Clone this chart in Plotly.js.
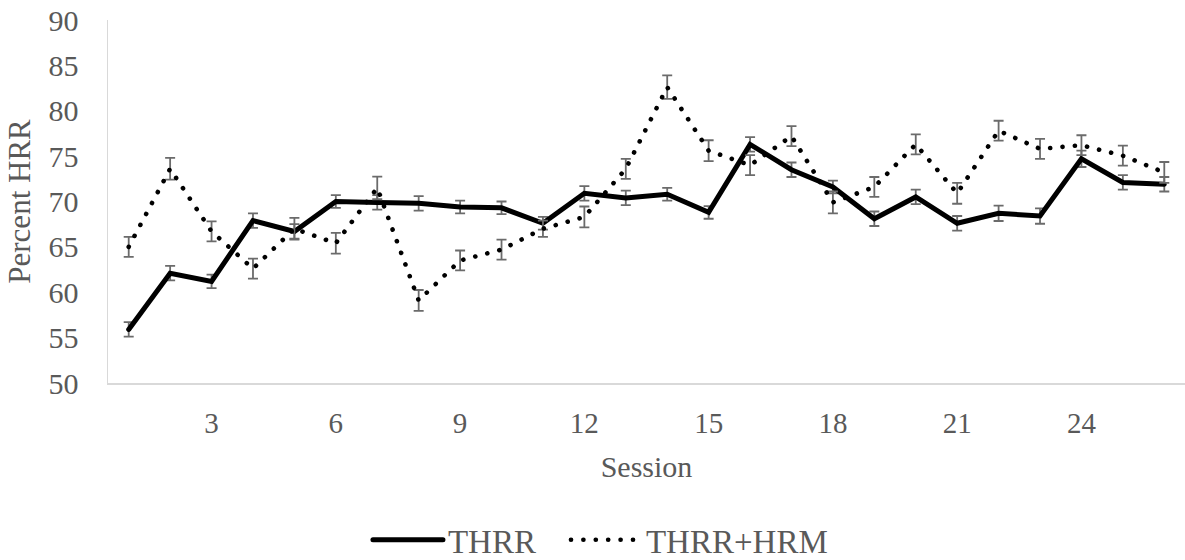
<!DOCTYPE html>
<html>
<head>
<meta charset="utf-8">
<script src="https://cdn.plot.ly/plotly-3.0.1.min.js"></script>
<style>
  body { margin: 0; padding: 0; background: #fff; }
  #chart { width: 1185px; height: 560px; }
  .js-line { stroke-linecap: round !important; }
</style>
</head>
<body>
<div id="chart"></div>
<script>
const sessions = [1,2,3,4,5,6,7,8,9,10,11,12,13,14,15,16,17,18,19,20,21,22,23,24,25,26];
const thrrValues = [55.9,62.1,61.2,67.9,66.7,70.0,69.9,69.8,69.4,69.3,67.6,70.9,70.4,70.8,68.8,76.3,73.5,71.6,68.1,70.5,67.6,68.7,68.4,74.7,72.1,71.9];
const thrrErrors = [0.8,0.8,0.75,0.8,0.8,0.7,0.8,0.8,0.7,0.7,0.7,0.8,0.8,0.7,0.7,0.8,0.8,0.7,0.8,0.8,0.8,0.85,0.85,0.9,0.8,0.8];
const hrmValues = [65.0,73.6,66.7,62.6,67.0,65.4,71.5,59.1,63.5,64.7,67.0,68.3,73.6,82.6,75.6,74.0,77.2,69.9,71.6,76.3,70.9,77.8,75.8,76.2,75.05,73.2];
const hrmErrors = [1.1,1.2,1.1,1.1,1.2,1.15,1.25,1.15,1.1,1.1,0.9,1.15,1.1,1.3,1.15,1.1,1.1,1.2,1.1,1.1,1.15,1.1,1.1,1.1,1.1,1.15];
const seriesNames = ['THRR', 'THRR+HRM'];
const xTicks = [3,6,9,12,15,18,21,24];
const yTicks = [50,55,60,65,70,75,80,85,90];

const fontFam = 'Liberation Serif';
const textColor = '#595959';

const traces = [
  {
    x: sessions, y: thrrValues, name: seriesNames[0], type: 'scatter', mode: 'lines',
    line: {color: '#000000', width: 5},
    legendwidth: 113,
    error_y: {type: 'data', array: thrrErrors, visible: true, color: '#6b6b6b', thickness: 1.8, width: 5}
  },
  {
    x: sessions, y: hrmValues, name: seriesNames[1], type: 'scatter', mode: 'lines',
    line: {color: '#000000', width: 4.6, dash: '0.1px,12.3px'},
    error_y: {type: 'data', array: hrmErrors, visible: true, color: '#6b6b6b', thickness: 1.8, width: 5}
  }
];

const layout = {
  width: 1185, height: 560,
  margin: {l: 108, r: 0, t: 20, b: 177},
  paper_bgcolor: '#ffffff', plot_bgcolor: '#ffffff',
  font: {family: fontFam, color: textColor, size: 28},
  showlegend: true,
  legend: {
    orientation: 'h', xref: 'container', yref: 'container',
    x: 0.3105, xanchor: 'left', y: 0.036, yanchor: 'middle',
    font: {family: fontFam, size: 33, color: textColor},
    itemwidth: 70
  },
  xaxis: {
    range: [0.5, 26.5], tickmode: 'array', tickvals: xTicks,
    showgrid: false, zeroline: false, showline: true,
    linecolor: '#d9d9d9', linewidth: 1.5, ticks: '',
    ticklabelstandoff: 14,
    tickfont: {family: fontFam, size: 29, color: textColor},
    title: {text: 'Session', font: {family: fontFam, size: 30, color: textColor}, standoff: 17}
  },
  yaxis: {
    range: [50, 90], tickmode: 'array', tickvals: yTicks,
    showgrid: false, zeroline: false, showline: true,
    linecolor: '#d9d9d9', linewidth: 1.5, ticks: '',
    ticklabelstandoff: 22,
    tickfont: {family: fontFam, size: 30, color: textColor},
    title: {text: 'Percent HRR', font: {family: fontFam, size: 31, color: textColor}, standoff: 8}
  }
};

Plotly.newPlot('chart', traces, layout, {displayModeBar: false, staticPlot: true});
</script>
</body>
</html>
